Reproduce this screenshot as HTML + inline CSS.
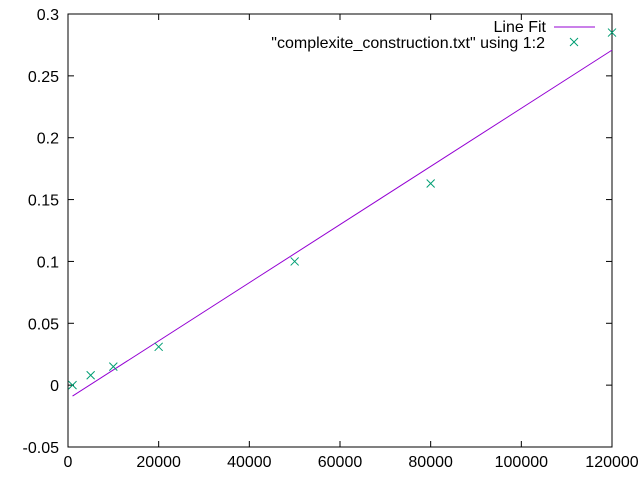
<!DOCTYPE html>
<html><head><meta charset="utf-8"><style>
body{margin:0;background:#fff}
svg text{font-family:"Liberation Sans",sans-serif;font-size:16px;fill:#000}
</style></head><body>
<svg width="640" height="480">
<g id="g"></g>
</svg>
<script>
const xTicks=[0,20000,40000,60000,80000,100000,120000];
const yTicks=[-0.05,0,0.05,0.1,0.15,0.2,0.25,0.3];
const yTickLabels=["-0.05","0","0.05","0.1","0.15","0.2","0.25","0.3"];
const dataX=[1000,5000,10000,20000,50000,80000,120000];
const dataY=[0,0.008,0.015,0.031,0.1,0.163,0.285];
const fitSlope=2.35e-6;
const fitIntercept=-0.0112;
const fitRange=[1000,120000];
const L=68,R=612,T=14,B=447;
const sx=v=>L+v/120000*(R-L);
const sy=v=>T+(0.3-v)/0.35*(B-T);
const g=document.getElementById('g');
const NS='http://www.w3.org/2000/svg';
function mk(t,a){const e=document.createElementNS(NS,t);for(const k in a)e.setAttribute(k,a[k]);g.appendChild(e);return e;}
let f=mk('rect',{x:L,y:T,width:R-L,height:B-T,fill:'none',stroke:'#000','stroke-width':1});


xTicks.forEach(v=>{const x=sx(v);
 mk('line',{x1:x,x2:x,y1:B,y2:B-6,stroke:'#000'});mk('line',{x1:x,x2:x,y1:T,y2:T+6,stroke:'#000'});
 const t=mk('text',{x:x,y:B+20,'text-anchor':'middle'});t.textContent=v;
 
 });
yTicks.forEach((v,i)=>{const y=sy(v);
 mk('line',{x1:L,x2:L+6,y1:y,y2:y,stroke:'#000'});mk('line',{x1:R,x2:R-6,y1:y,y2:y,stroke:'#000'});
 const t=mk('text',{x:L-9,y:y+6,'text-anchor':'end'});t.textContent=yTickLabels[i];
 
 });
const fl=mk('line',{x1:sx(fitRange[0]),y1:sy(fitSlope*fitRange[0]+fitIntercept),x2:sx(fitRange[1]),y2:sy(fitSlope*fitRange[1]+fitIntercept),stroke:'#9400d3','stroke-width':1});


function cross(x,y,n){const p=mk('path',{d:`M${x-4},${y-4}L${x+4},${y+4}M${x-4},${y+4}L${x+4},${y-4}`,stroke:'#009e73','stroke-width':1,fill:'none'});
 
 }
dataX.forEach((v,i)=>cross(sx(v),sy(dataY[i]),'data-point'));
let t1=mk('text',{x:546,y:32,'text-anchor':'end'});t1.textContent='Line Fit';


const ll=mk('line',{x1:554,x2:595,y1:27,y2:27,stroke:'#9400d3'});


let t2=mk('text',{x:545,y:48,'text-anchor':'end'});t2.textContent='"complexite_construction.txt" using 1:2';


cross(574,42,'legend-data-marker');
</script>
</body></html>
